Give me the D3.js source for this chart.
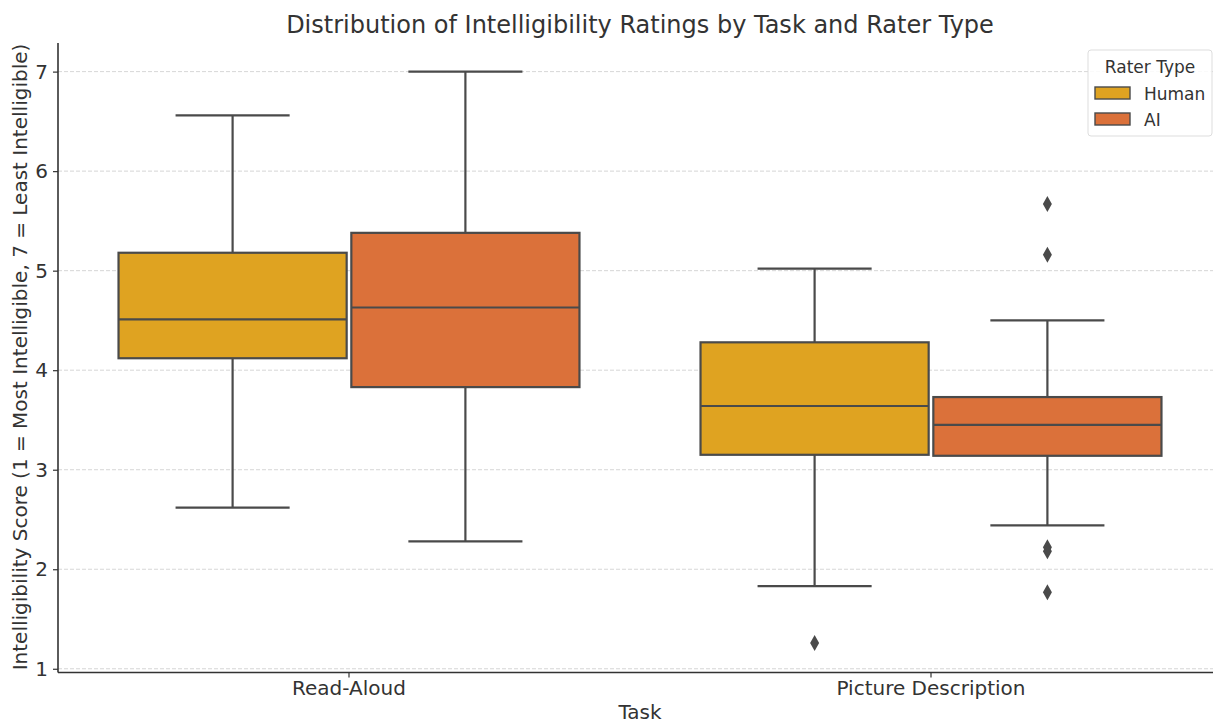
<!DOCTYPE html>
<html>
<head>
<meta charset="utf-8">
<script src="https://cdn.jsdelivr.net/npm/d3@7"></script>
<style>
  body { margin: 0; background: #fff; }
  text { font-family: "DejaVu Sans", sans-serif; fill: #333; }
</style>
</head>
<body>
<svg id="chart"></svg>
<script>
const size = {w: 1213, h: 725};
const svg = d3.select('svg#chart')
    .attr('width', size.w)
    .attr('height', size.h);

// data
const tasks = ['Read-Aloud', 'Picture Description'];
const raters = ['Human', 'AI'];
const colors = ['#dfa321', '#db713a'];

// [whiskerLow, q1, median, q3, whiskerHigh] per task
const humanStats = [[2.62, 4.12, 4.51, 5.18, 6.56], [1.83, 3.15, 3.64, 4.28, 5.02]];
const aiStats = [[2.28, 3.83, 4.63, 5.38, 7.0], [2.44, 3.14, 3.45, 3.73, 4.50]];
const humanOutliers = [[], [1.26]];
const aiOutliers = [[], [5.67, 5.16, 2.22, 2.18, 1.77]];
const yTicks = [1, 2, 3, 4, 5, 6, 7];

const boxes = [];
tasks.forEach((t, i) => {
    boxes.push({task: t, rater: 'Human', s: humanStats[i], out: humanOutliers[i]});
    boxes.push({task: t, rater: 'AI', s: aiStats[i], out: aiOutliers[i]});
});

const x = d3.scaleBand().domain(tasks).range([58, 1222]).paddingInner(0.2).paddingOuter(0.1);
const xh = d3.scaleBand().domain(raters).range([0, x.bandwidth()]);
const y = d3.scaleLinear().domain([0.9625, 7.2875]).range([672.5, 43]);
const color = d3.scaleOrdinal().domain(raters).range(colors);

const edge = '#4a4a4a';

// grid
svg.append('g').selectAll('line')
    .data(yTicks)
    .join('line')
    .attr('x1', 58).attr('x2', size.w)
    .attr('y1', d => y(d)).attr('y2', d => y(d))
    .attr('stroke', '#cccccc')
    .attr('stroke-width', 0.8)
    .attr('stroke-dasharray', '4,2');

const boxW = xh.bandwidth() * 0.98;
const g = svg.append('g');

boxes.forEach(b => {
    const cx = x(b.task) + xh(b.rater) + xh.bandwidth() / 2;
    const capW = boxW / 2;
    // whiskers
    g.append('line').attr('x1', cx).attr('x2', cx)
        .attr('y1', y(b.s[0])).attr('y2', y(b.s[1]))
        .attr('stroke', edge).attr('stroke-width', 2.2);
    g.append('line').attr('x1', cx).attr('x2', cx)
        .attr('y1', y(b.s[3])).attr('y2', y(b.s[4]))
        .attr('stroke', edge).attr('stroke-width', 2.2);
    [b.s[0], b.s[4]].forEach(v => {
        g.append('line').attr('x1', cx - capW / 2).attr('x2', cx + capW / 2)
            .attr('y1', y(v)).attr('y2', y(v))
            .attr('stroke', edge).attr('stroke-width', 2.2);
    });
    // box
    g.append('rect')
        .attr('x', cx - boxW / 2)
        .attr('y', y(b.s[3]))
        .attr('width', boxW)
        .attr('height', y(b.s[1]) - y(b.s[3]))
        .attr('fill', color(b.rater))
        .attr('stroke', edge).attr('stroke-width', 2.2);
    // median
    g.append('line').attr('x1', cx - boxW / 2).attr('x2', cx + boxW / 2)
        .attr('y1', y(b.s[2])).attr('y2', y(b.s[2]))
        .attr('stroke', edge).attr('stroke-width', 2.2);
    // outliers
    g.selectAll(null)
        .data(b.out)
        .join('path')
        .attr('d', 'M0,-8L4.5,0L0,8L-4.5,0Z')
        .attr('transform', d => `translate(${cx},${y(d)})`)
        .attr('fill', edge);
});

// axes
const yAxis = svg.append('g')
    .attr('transform', 'translate(58,0)')
    .call(d3.axisLeft(y).tickValues(yTicks).tickFormat(d3.format('d')).tickSize(5).tickPadding(5));
yAxis.select('.domain').attr('d', `M0,43V672.5`).attr('stroke', '#333').attr('stroke-width', 1.6);
yAxis.selectAll('.tick line').attr('stroke', '#333').attr('stroke-width', 1.2);

const xAxis = svg.append('g')
    .attr('transform', 'translate(0,672.5)')
    .call(d3.axisBottom(x).tickSize(5).tickPadding(3));
xAxis.select('.domain').attr('d', `M58,0H${size.w}`).attr('stroke', '#333').attr('stroke-width', 1.6);
xAxis.selectAll('.tick line').attr('stroke', '#333').attr('stroke-width', 1.2);

svg.selectAll('.tick text')
    .attr('fill', '#333')
    .style('font-size', '20px')
    .style('font-family', '"DejaVu Sans", sans-serif');

// labels
svg.append('text')
    .attr('x', 640).attr('y', 33)
    .attr('text-anchor', 'middle')
    .style('font-size', '24px')
    .text('Distribution of Intelligibility Ratings by Task and Rater Type');

svg.append('text')
    .attr('x', 640).attr('y', 719)
    .attr('text-anchor', 'middle')
    .style('font-size', '20px')
    .text('Task');

svg.append('text')
    .attr('transform', 'translate(27,357) rotate(-90)')
    .attr('text-anchor', 'middle')
    .style('font-size', '20px')
    .text('Intelligibility Score (1 = Most Intelligible, 7 = Least Intelligible)');

// legend
const lg = svg.append('g').attr('transform', 'translate(1088,50)');
lg.append('rect')
    .attr('width', 124).attr('height', 86).attr('rx', 3)
    .attr('fill', '#fff').attr('fill-opacity', 0.85)
    .attr('stroke', '#dddddd');
lg.append('text')
    .attr('x', 62).attr('y', 23)
    .attr('text-anchor', 'middle')
    .style('font-size', '17px')
    .text('Rater Type');
raters.forEach((r, i) => {
    lg.append('rect')
        .attr('x', 7).attr('y', 37 + i * 26)
        .attr('width', 35).attr('height', 12)
        .attr('fill', color(r))
        .attr('stroke', edge).attr('stroke-width', 1.4);
    lg.append('text')
        .attr('x', 56).attr('y', 50 + i * 26)
        .style('font-size', '17px')
        .text(r);
});
</script>
</body>
</html>
